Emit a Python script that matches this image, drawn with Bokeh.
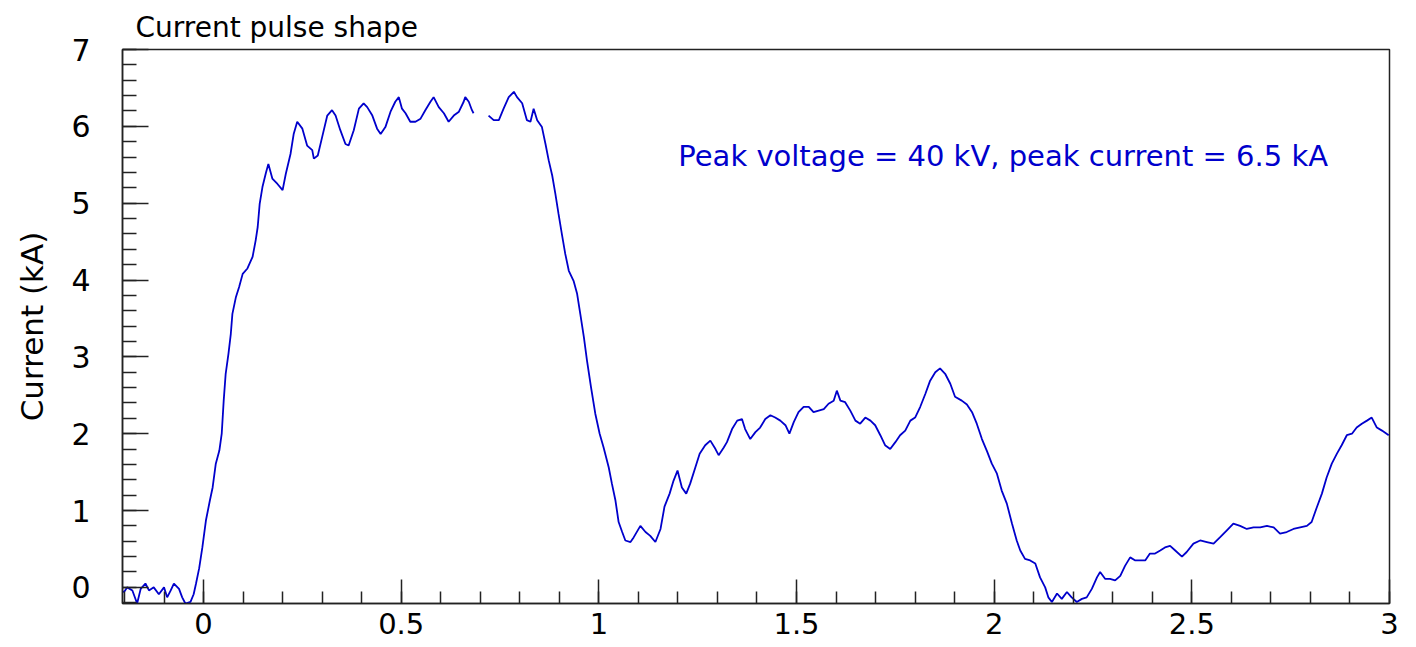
from bokeh.plotting import figure
from bokeh.models import Range1d, SingleIntervalTicker, Label, NumeralTickFormatter, ColumnDataSource
from bokeh.embed import file_html
from bokeh.resources import INLINE

# Time (microseconds) and current (kA)
time_us = [
    -0.205, -0.201, -0.193, -0.180, -0.168, -0.159, -0.147, -0.138, -0.126, -0.113,
    -0.100, -0.092, -0.083, -0.075, -0.062, -0.054, -0.046, -0.033, -0.025, -0.019,
    -0.011, -0.003, 0.006, 0.016, 0.023, 0.031, 0.040, 0.046, 0.051, 0.056,
    0.063, 0.069, 0.073, 0.082, 0.090, 0.099, 0.111, 0.124, 0.132, 0.137,
    0.142, 0.149, 0.158, 0.164, 0.174, 0.187, 0.200, 0.208, 0.220, 0.228,
    0.237, 0.250, 0.262, 0.275, 0.279, 0.289, 0.300, 0.313, 0.325, 0.334,
    0.346, 0.359, 0.367, 0.380, 0.393, 0.405, 0.414, 0.427, 0.439, 0.448,
    0.460, 0.473, 0.485, 0.494, 0.502, 0.511, 0.523, 0.536, 0.549, 0.561,
    0.574, 0.582, 0.595, 0.608, 0.620, 0.633, 0.646, 0.658, 0.662, 0.671,
    0.679, 0.683, 0.700, 0.721, 0.734, 0.747, 0.759, 0.772, 0.785, 0.793,
    0.806, 0.818, 0.827, 0.835, 0.844, 0.856, 0.865, 0.873, 0.882, 0.890,
    0.898, 0.907, 0.915, 0.924, 0.936, 0.945, 0.953, 0.962, 0.970, 0.980,
    0.991, 1.002, 1.012, 1.025, 1.033, 1.042, 1.050, 1.059, 1.067, 1.080,
    1.088, 1.105, 1.118, 1.130, 1.143, 1.156, 1.166, 1.179, 1.189, 1.199,
    1.210, 1.221, 1.231, 1.244, 1.255, 1.269, 1.282, 1.295, 1.303, 1.316,
    1.324, 1.337, 1.350, 1.362, 1.370, 1.383, 1.396, 1.408, 1.421, 1.434,
    1.446, 1.459, 1.472, 1.482, 1.493, 1.505, 1.518, 1.531, 1.543, 1.556,
    1.569, 1.581, 1.594, 1.602, 1.611, 1.623, 1.636, 1.649, 1.661, 1.674,
    1.687, 1.699, 1.712, 1.724, 1.737, 1.750, 1.762, 1.775, 1.788, 1.800,
    1.813, 1.826, 1.838, 1.851, 1.863, 1.876, 1.889, 1.901, 1.918, 1.931,
    1.944, 1.956, 1.969, 1.982, 1.994, 2.007, 2.019, 2.032, 2.045, 2.057,
    2.066, 2.078, 2.091, 2.104, 2.116, 2.129, 2.137, 2.146, 2.159, 2.171,
    2.184, 2.196, 2.209, 2.222, 2.234, 2.247, 2.260, 2.268, 2.281, 2.293,
    2.306, 2.319, 2.331, 2.344, 2.357, 2.369, 2.382, 2.394, 2.407, 2.420,
    2.432, 2.445, 2.458, 2.475, 2.487, 2.504, 2.521, 2.538, 2.555, 2.571,
    2.588, 2.605, 2.622, 2.639, 2.656, 2.673, 2.690, 2.707, 2.723, 2.740,
    2.757, 2.774, 2.791, 2.803, 2.816, 2.829, 2.841, 2.854, 2.867, 2.879,
    2.892, 2.905, 2.917, 2.930, 2.943, 2.955, 2.968, 2.981, 2.998,
]
current_ka = [
    -0.05, -0.06, 0.00, -0.04, -0.21, -0.02, 0.05, -0.04, 0.00, -0.09,
    0.00, -0.13, -0.04, 0.05, -0.02, -0.13, -0.21, -0.19, -0.09, 0.05,
    0.25, 0.52, 0.87, 1.13, 1.30, 1.61, 1.78, 2.00, 2.43, 2.78,
    3.04, 3.30, 3.56, 3.78, 3.91, 4.08, 4.15, 4.30, 4.52, 4.69,
    4.99, 5.21, 5.40, 5.51, 5.32, 5.25, 5.17, 5.38, 5.64, 5.90,
    6.06, 5.97, 5.75, 5.69, 5.58, 5.62, 5.86, 6.14, 6.21, 6.14,
    5.95, 5.77, 5.75, 5.95, 6.23, 6.30, 6.25, 6.14, 5.97, 5.90,
    5.99, 6.19, 6.32, 6.38, 6.23, 6.17, 6.06, 6.06, 6.10, 6.21,
    6.32, 6.38, 6.25, 6.17, 6.06, 6.14, 6.19, 6.32, 6.38, 6.32,
    6.21, 6.17, float("nan"), 6.14, 6.08, 6.08, 6.23, 6.38, 6.45, 6.38,
    6.30, 6.08, 6.06, 6.23, 6.08, 5.99, 5.77, 5.56, 5.36, 5.12,
    4.86, 4.58, 4.34, 4.12, 3.99, 3.82, 3.56, 3.26, 2.95, 2.61,
    2.26, 2.00, 1.82, 1.56, 1.35, 1.13, 0.85, 0.72, 0.61, 0.59,
    0.65, 0.80, 0.72, 0.67, 0.59, 0.76, 1.05, 1.22, 1.39, 1.52,
    1.30, 1.22, 1.35, 1.56, 1.74, 1.85, 1.91, 1.80, 1.72, 1.82,
    1.89, 2.06, 2.17, 2.19, 2.06, 1.93, 2.02, 2.08, 2.19, 2.24,
    2.21, 2.17, 2.11, 2.00, 2.15, 2.28, 2.35, 2.35, 2.28, 2.30,
    2.32, 2.39, 2.43, 2.56, 2.43, 2.41, 2.30, 2.17, 2.13, 2.21,
    2.17, 2.11, 1.98, 1.85, 1.80, 1.89, 1.98, 2.04, 2.17, 2.21,
    2.35, 2.52, 2.69, 2.80, 2.85, 2.78, 2.65, 2.48, 2.43, 2.38,
    2.28, 2.13, 1.93, 1.77, 1.61, 1.48, 1.26, 1.09, 0.83, 0.61,
    0.48, 0.37, 0.35, 0.31, 0.13, 0.00, -0.13, -0.19, -0.08, -0.15,
    -0.06, -0.13, -0.19, -0.15, -0.13, -0.02, 0.13, 0.20, 0.11, 0.11,
    0.09, 0.15, 0.28, 0.39, 0.35, 0.35, 0.35, 0.44, 0.44, 0.48,
    0.52, 0.54, 0.48, 0.40, 0.46, 0.57, 0.61, 0.59, 0.57, 0.65,
    0.74, 0.83, 0.80, 0.76, 0.78, 0.78, 0.80, 0.78, 0.70, 0.72,
    0.76, 0.78, 0.80, 0.85, 1.04, 1.22, 1.43, 1.61, 1.74, 1.85,
    1.98, 2.00, 2.08, 2.13, 2.17, 2.21, 2.08, 2.04, 1.98,
]

title_text = "Current pulse shape"
y_title = "Current (kA)"
note_text = "Peak voltage = 40 kV, peak current = 6.5 kA"

FONT = "DejaVu Sans"
BLUE = "#0000cc"

p = figure(width=1416, height=647, x_range=Range1d(-0.205, 3.0), y_range=Range1d(-0.21, 7.0),
           output_backend="svg", toolbar_location=None, title=title_text,
           min_border_left=122, min_border_right=27, min_border_top=49, min_border_bottom=44)
p.background_fill_color = "white"
p.border_fill_color = "white"
p.outline_line_color = "#222222"
p.outline_line_width = 1.5
p.xgrid.visible = False
p.ygrid.visible = False

p.title.text_font = FONT
p.title.text_font_size = "28px"
p.title.text_font_style = "normal"
p.title.text_color = "black"
p.title.align = "left"
p.title.offset = 13
p.title.standoff = 12

src = ColumnDataSource(dict(t=time_us, i=current_ka))
p.line("t", "i", source=src, line_color=BLUE, line_width=1.8)

p.xaxis.ticker = SingleIntervalTicker(interval=0.5, num_minor_ticks=5)
p.yaxis.ticker = SingleIntervalTicker(interval=1, num_minor_ticks=5)
p.xaxis.formatter = NumeralTickFormatter(format="0.[0]")
p.yaxis.formatter = NumeralTickFormatter(format="0")

for ax in (p.xaxis[0], p.yaxis[0]):
    ax.axis_line_color = "#222222"
    ax.axis_line_width = 1.5
    ax.major_tick_line_color = "#222222"
    ax.minor_tick_line_color = "#222222"
    ax.major_tick_line_width = 1.5
    ax.minor_tick_line_width = 1.5
    ax.major_tick_out = 0
    ax.minor_tick_out = 0
    ax.major_label_text_font = FONT
    ax.major_label_text_color = "black"

p.xaxis.major_tick_in = 24
p.xaxis.minor_tick_in = 12
p.yaxis.major_tick_in = 26
p.yaxis.minor_tick_in = 14
p.xaxis.major_label_text_font_size = "29px"
p.xaxis.major_label_standoff = 9
p.yaxis.major_label_text_font_size = "30px"
p.yaxis.major_label_standoff = 32

p.yaxis.axis_label = y_title
p.yaxis.axis_label_text_font = FONT
p.yaxis.axis_label_text_font_size = "31px"
p.yaxis.axis_label_text_font_style = "normal"
p.yaxis.axis_label_text_color = "black"
p.yaxis.axis_label_standoff = 18

p.add_layout(Label(x=1.201, y=5.62, text=note_text, text_font=FONT, text_font_size="29px",
                   text_color=BLUE, text_baseline="alphabetic", text_align="left"))

open("out.html", "w").write(file_html(p, INLINE))
